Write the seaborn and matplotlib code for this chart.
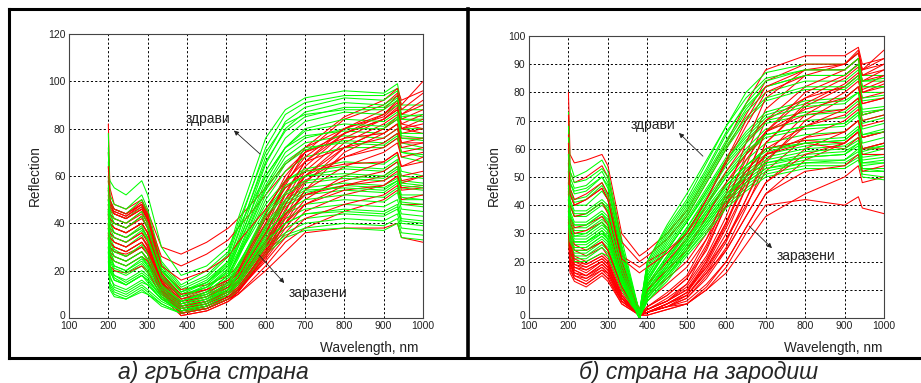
import pandas as pd
import matplotlib
matplotlib.use("Agg")
import matplotlib.pyplot as plt
import matplotlib.transforms as mtransforms
from matplotlib.lines import Line2D
import seaborn as sns

# knot wavelengths (nm) for the two panels
wl_a = [200, 204, 215, 245, 285, 300, 335, 385, 450, 505, 530, 600, 650, 700, 800, 900, 935, 945, 1000]
wl_b = [200, 204, 215, 245, 285, 300, 335, 380, 400, 450, 500, 550, 600, 650, 700, 800, 900, 935, 945, 1000]

# а) гръбна страна - healthy (green) spectra
healthy_a = [
    [78, 52, 48, 46, 52, 46, 24, 14, 20, 28, 42, 76, 88, 93, 96, 95, 99, 90, 90],
    [72, 48, 44, 42, 47, 42, 22, 12, 17, 26, 38, 72, 86, 91, 94, 94, 97, 88, 88],
    [66, 44, 40, 38, 43, 38, 20, 11, 16, 24, 35, 68, 83, 89, 93, 92, 96, 86, 85],
    [60, 40, 36, 34, 39, 34, 18, 10, 15, 23, 33, 65, 80, 87, 91, 90, 94, 84, 84],
    [55, 36, 32, 30, 35, 30, 16, 9, 14, 22, 31, 62, 76, 83, 87, 86, 90, 80, 80],
    [62, 58, 55, 52, 58, 52, 30, 18, 22, 30, 38, 60, 72, 77, 79, 78, 82, 74, 72],
    [50, 34, 30, 28, 32, 28, 15, 8, 12, 20, 28, 55, 68, 74, 77, 76, 80, 72, 71],
    [45, 30, 26, 24, 28, 24, 13, 7, 11, 18, 26, 52, 65, 71, 75, 74, 78, 70, 68],
    [40, 27, 22, 20, 25, 22, 12, 6, 10, 17, 25, 50, 62, 68, 72, 72, 76, 68, 66],
    [58, 42, 38, 36, 40, 36, 19, 10, 13, 19, 26, 46, 58, 63, 66, 65, 69, 62, 60],
    [48, 28, 24, 22, 26, 22, 12, 6, 9, 15, 22, 44, 55, 60, 63, 62, 66, 58, 57],
    [52, 33, 29, 26, 30, 27, 14, 7, 10, 16, 23, 42, 52, 57, 59, 58, 61, 55, 54],
    [44, 24, 20, 18, 22, 19, 10, 5, 8, 14, 20, 40, 50, 55, 57, 56, 59, 52, 52],
    [40, 22, 18, 15, 19, 17, 9, 4, 7, 13, 19, 38, 48, 53, 56, 55, 58, 50, 50],
    [36, 20, 16, 14, 18, 15, 8, 4, 6, 12, 18, 37, 47, 52, 54, 53, 57, 49, 48],
    [46, 26, 22, 20, 24, 21, 11, 5, 8, 13, 18, 36, 44, 48, 50, 49, 53, 46, 45],
    [34, 18, 13, 11, 15, 14, 8, 3, 6, 11, 16, 34, 42, 46, 48, 47, 50, 44, 43],
    [38, 21, 17, 14, 18, 16, 9, 4, 7, 12, 17, 33, 40, 44, 46, 45, 48, 42, 41],
    [30, 15, 12, 10, 14, 12, 7, 3, 5, 10, 15, 31, 38, 42, 44, 43, 46, 40, 39],
    [28, 14, 11, 9, 13, 11, 6, 2, 5, 10, 14, 30, 36, 40, 42, 41, 44, 38, 37],
    [26, 13, 10, 8, 12, 10, 6, 2, 4, 9, 13, 28, 35, 38, 40, 39, 42, 36, 35],
    [24, 12, 9, 8, 11, 10, 5, 2, 4, 8, 12, 27, 34, 37, 38, 37, 40, 34, 33],
    [64, 46, 42, 40, 45, 40, 21, 11, 15, 22, 32, 60, 72, 80, 84, 83, 87, 78, 78],
    [54, 38, 34, 32, 37, 33, 17, 9, 13, 21, 30, 56, 70, 76, 80, 80, 84, 76, 75],
    [70, 50, 46, 44, 50, 44, 23, 13, 18, 27, 40, 70, 82, 86, 88, 88, 92, 84, 83],
    [42, 30, 26, 24, 28, 25, 13, 7, 11, 18, 27, 48, 58, 62, 64, 63, 67, 60, 59],
    [50, 40, 36, 34, 38, 34, 18, 9, 13, 20, 30, 58, 72, 79, 82, 81, 85, 77, 76],
    [46, 32, 28, 26, 31, 27, 14, 7, 11, 18, 27, 54, 66, 72, 74, 73, 77, 70, 69],
    [38, 28, 24, 22, 26, 23, 12, 6, 9, 15, 22, 45, 56, 60, 61, 60, 64, 57, 56],
    [34, 25, 21, 19, 23, 20, 11, 5, 8, 14, 21, 43, 53, 58, 60, 59, 63, 56, 55],
    [32, 22, 18, 16, 20, 18, 10, 4, 7, 12, 18, 39, 49, 54, 55, 54, 58, 51, 50],
    [30, 20, 16, 14, 18, 16, 9, 3, 6, 11, 16, 35, 45, 50, 52, 51, 55, 48, 47],
    [56, 44, 40, 38, 43, 38, 20, 11, 15, 24, 36, 66, 79, 85, 89, 89, 93, 85, 86],
    [28, 17, 14, 12, 16, 14, 8, 3, 5, 10, 15, 32, 40, 44, 45, 44, 47, 41, 40],
]

# а) гръбна страна - infected (red) spectra
infected_a = [
    [82, 55, 48, 46, 50, 45, 30, 27, 32, 38, 42, 55, 65, 72, 80, 85, 90, 82, 80],
    [70, 50, 44, 42, 46, 42, 26, 22, 27, 33, 38, 52, 62, 70, 78, 84, 88, 80, 78],
    [60, 48, 46, 44, 48, 43, 20, 12, 14, 18, 22, 40, 58, 72, 85, 92, 97, 92, 96],
    [55, 45, 44, 42, 46, 41, 18, 8, 10, 14, 18, 38, 56, 70, 84, 90, 95, 90, 100],
    [50, 44, 42, 40, 44, 40, 17, 6, 8, 12, 16, 35, 52, 66, 80, 88, 94, 88, 95],
    [48, 42, 40, 38, 42, 38, 16, 5, 7, 11, 15, 33, 50, 64, 78, 86, 92, 86, 92],
    [45, 40, 38, 36, 40, 36, 15, 4, 6, 10, 14, 31, 48, 62, 76, 84, 89, 84, 88],
    [42, 38, 36, 34, 38, 34, 14, 3, 5, 9, 13, 29, 45, 60, 74, 82, 86, 80, 84],
    [40, 36, 34, 32, 36, 32, 13, 2, 4, 8, 12, 28, 43, 57, 72, 80, 84, 78, 80],
    [38, 34, 32, 30, 34, 30, 12, 1, 3, 7, 11, 26, 40, 54, 70, 78, 82, 76, 76],
    [46, 44, 42, 40, 45, 40, 15, 6, 9, 14, 18, 36, 50, 60, 68, 72, 76, 70, 72],
    [44, 36, 34, 32, 36, 33, 14, 4, 7, 12, 16, 32, 44, 52, 58, 62, 66, 60, 62],
    [36, 30, 28, 27, 30, 27, 11, 2, 4, 8, 11, 25, 36, 45, 52, 56, 60, 54, 55],
    [34, 22, 20, 19, 22, 20, 9, 1, 3, 7, 10, 22, 32, 38, 45, 50, 54, 48, 48],
    [30, 32, 30, 28, 32, 29, 12, 3, 4, 8, 10, 20, 28, 36, 38, 38, 40, 34, 32],
    [52, 46, 45, 43, 47, 42, 18, 10, 12, 16, 20, 42, 55, 62, 65, 66, 70, 64, 66],
    [40, 26, 24, 22, 26, 24, 10, 3, 5, 9, 12, 28, 40, 48, 54, 56, 60, 55, 56],
    [48, 40, 38, 36, 40, 36, 15, 5, 7, 11, 14, 30, 46, 58, 68, 74, 78, 72, 74],
    [58, 48, 46, 44, 49, 44, 19, 9, 12, 16, 20, 44, 60, 70, 76, 78, 82, 74, 76],
    [35, 28, 26, 24, 28, 25, 11, 2, 4, 8, 11, 30, 44, 52, 56, 58, 62, 57, 60],
    [50, 46, 44, 42, 46, 42, 17, 7, 9, 13, 17, 36, 53, 66, 78, 84, 88, 82, 86],
    [46, 42, 40, 38, 43, 38, 16, 5, 7, 11, 15, 32, 48, 60, 72, 80, 85, 80, 82],
    [42, 40, 38, 36, 40, 36, 15, 4, 6, 10, 13, 28, 42, 54, 64, 70, 74, 68, 70],
    [38, 34, 32, 30, 34, 31, 13, 3, 5, 9, 12, 26, 38, 48, 56, 60, 64, 58, 60],
    [44, 30, 28, 26, 30, 27, 12, 3, 5, 9, 12, 24, 34, 42, 48, 52, 56, 50, 52],
    [54, 47, 45, 43, 48, 43, 18, 8, 11, 15, 19, 40, 57, 68, 80, 86, 91, 86, 90],
    [36, 32, 30, 28, 32, 28, 12, 2, 4, 8, 11, 27, 40, 50, 60, 66, 70, 64, 68],
    [64, 50, 46, 44, 48, 44, 22, 16, 20, 26, 32, 46, 58, 66, 72, 76, 80, 74, 74],
]

# б) страна на зародиш - healthy (green) spectra
healthy_b = [
    [73, 55, 50, 52, 56, 52, 28, 2, 20, 32, 42, 55, 68, 80, 87, 90, 90, 94, 86, 86],
    [68, 50, 46, 47, 52, 48, 25, 2, 18, 30, 40, 52, 65, 76, 84, 88, 88, 92, 84, 84],
    [62, 46, 42, 43, 48, 44, 23, 1, 16, 28, 38, 50, 62, 73, 80, 84, 84, 88, 80, 80],
    [58, 44, 40, 40, 45, 42, 21, 1, 15, 26, 36, 48, 60, 70, 77, 81, 81, 85, 77, 78],
    [55, 42, 38, 38, 42, 40, 20, 1, 14, 25, 35, 46, 57, 66, 73, 77, 78, 82, 74, 75],
    [52, 40, 36, 36, 40, 38, 19, 1, 13, 24, 34, 44, 55, 63, 70, 73, 74, 78, 70, 72],
    [50, 38, 34, 34, 38, 36, 18, 1, 12, 22, 32, 42, 52, 60, 67, 70, 71, 75, 67, 69],
    [48, 36, 32, 32, 36, 34, 17, 0, 11, 21, 31, 40, 50, 58, 64, 67, 68, 72, 64, 66],
    [46, 35, 31, 31, 35, 33, 16, 0, 10, 20, 30, 39, 48, 56, 62, 65, 66, 70, 62, 64],
    [44, 34, 30, 30, 34, 32, 16, 0, 10, 19, 29, 38, 47, 54, 60, 63, 64, 68, 60, 62],
    [42, 32, 28, 28, 32, 30, 15, 0, 9, 18, 28, 37, 46, 53, 58, 61, 62, 66, 58, 60],
    [40, 30, 27, 27, 31, 29, 14, 0, 9, 18, 27, 36, 45, 52, 57, 60, 61, 64, 57, 58],
    [38, 29, 26, 26, 30, 28, 14, 0, 8, 17, 26, 35, 44, 50, 55, 58, 59, 62, 55, 56],
    [36, 28, 25, 25, 29, 27, 13, 0, 8, 16, 25, 34, 43, 49, 54, 57, 58, 61, 54, 55],
    [34, 26, 23, 23, 27, 25, 12, 0, 7, 15, 24, 33, 42, 48, 53, 56, 56, 60, 53, 53],
    [32, 25, 22, 22, 26, 24, 12, 0, 7, 15, 23, 32, 41, 47, 52, 55, 55, 58, 52, 52],
    [30, 24, 21, 21, 25, 23, 11, 0, 6, 14, 23, 31, 40, 46, 51, 54, 54, 57, 51, 50],
    [56, 48, 45, 46, 50, 47, 24, 2, 19, 31, 41, 53, 66, 75, 82, 86, 86, 90, 82, 82],
    [45, 40, 36, 37, 41, 38, 19, 1, 14, 24, 34, 45, 56, 65, 72, 76, 77, 80, 73, 74],
    [40, 33, 29, 30, 34, 31, 15, 0, 11, 21, 30, 40, 50, 58, 65, 68, 69, 73, 65, 66],
    [35, 30, 27, 27, 30, 28, 14, 0, 9, 18, 27, 37, 47, 54, 60, 62, 63, 67, 60, 61],
    [28, 22, 20, 20, 23, 22, 10, 0, 6, 13, 22, 30, 39, 45, 50, 53, 53, 56, 50, 49],
    [42, 36, 33, 33, 37, 34, 17, 1, 12, 22, 32, 43, 54, 62, 69, 72, 73, 77, 69, 71],
    [60, 45, 41, 42, 47, 43, 22, 1, 15, 27, 37, 49, 61, 71, 78, 82, 82, 86, 78, 79],
    [64, 48, 44, 45, 50, 46, 24, 2, 17, 29, 39, 51, 63, 74, 82, 86, 86, 90, 82, 82],
    [54, 41, 37, 37, 41, 39, 19, 1, 13, 24, 34, 45, 56, 64, 71, 75, 76, 80, 72, 74],
    [47, 37, 33, 33, 37, 35, 17, 0, 11, 21, 31, 41, 51, 59, 65, 68, 69, 73, 65, 67],
    [43, 33, 29, 29, 33, 31, 15, 0, 9, 19, 28, 38, 47, 54, 59, 62, 63, 67, 59, 61],
    [39, 30, 27, 27, 31, 28, 14, 0, 8, 17, 26, 35, 44, 51, 56, 59, 60, 63, 56, 57],
    [37, 28, 25, 25, 29, 27, 13, 0, 8, 16, 25, 34, 43, 50, 55, 57, 58, 62, 55, 55],
    [58, 52, 48, 49, 53, 50, 26, 2, 20, 33, 44, 56, 68, 78, 85, 88, 88, 92, 84, 85],
    [33, 27, 24, 24, 28, 26, 12, 0, 7, 15, 24, 33, 42, 48, 53, 55, 56, 59, 53, 52],
]

# б) страна на зародиш - infected (red) spectra
infected_b = [
    [80, 58, 55, 56, 58, 54, 30, 22, 24, 30, 38, 50, 62, 76, 88, 93, 93, 96, 90, 92],
    [72, 52, 48, 50, 54, 50, 27, 20, 22, 28, 36, 48, 60, 72, 84, 90, 90, 94, 88, 90],
    [60, 30, 24, 22, 25, 22, 10, 1, 4, 8, 14, 24, 40, 58, 74, 86, 90, 95, 88, 95],
    [55, 28, 22, 20, 23, 21, 9, 1, 3, 7, 12, 22, 36, 54, 70, 82, 88, 92, 86, 90],
    [50, 26, 20, 18, 21, 19, 8, 1, 3, 6, 10, 20, 33, 50, 66, 78, 85, 89, 82, 86],
    [48, 24, 18, 17, 20, 18, 7, 1, 2, 5, 9, 18, 30, 46, 62, 75, 82, 86, 80, 83],
    [45, 22, 17, 15, 19, 17, 7, 1, 2, 5, 8, 16, 27, 42, 58, 72, 80, 84, 78, 80],
    [42, 20, 16, 14, 18, 16, 6, 1, 2, 4, 7, 15, 25, 39, 55, 70, 78, 82, 76, 78],
    [40, 24, 19, 18, 21, 19, 8, 1, 3, 6, 10, 18, 28, 40, 52, 64, 70, 74, 68, 70],
    [38, 22, 18, 16, 20, 18, 7, 1, 2, 5, 8, 16, 24, 36, 48, 60, 66, 70, 64, 66],
    [46, 36, 32, 33, 36, 33, 16, 2, 8, 14, 20, 30, 42, 52, 60, 68, 72, 76, 70, 72],
    [35, 20, 15, 14, 17, 16, 6, 1, 2, 4, 6, 12, 20, 32, 44, 56, 62, 66, 60, 62],
    [33, 18, 14, 12, 16, 14, 6, 1, 2, 4, 5, 10, 16, 26, 36, 44, 50, 54, 48, 50],
    [30, 16, 13, 11, 15, 13, 5, 1, 1, 3, 5, 10, 18, 30, 40, 42, 40, 43, 39, 37],
    [52, 44, 40, 42, 46, 42, 20, 3, 12, 20, 28, 40, 52, 62, 70, 78, 82, 86, 80, 82],
    [44, 34, 30, 31, 34, 31, 14, 2, 6, 12, 18, 28, 40, 50, 58, 64, 66, 70, 64, 66],
    [38, 20, 16, 15, 18, 16, 7, 1, 2, 5, 9, 20, 34, 48, 58, 62, 60, 64, 58, 58],
    [36, 28, 24, 24, 27, 24, 11, 1, 4, 8, 14, 26, 42, 56, 66, 72, 74, 78, 72, 74],
    [65, 46, 42, 44, 48, 44, 22, 18, 20, 24, 30, 42, 55, 68, 80, 86, 86, 90, 84, 86],
    [42, 26, 20, 19, 22, 20, 8, 1, 3, 6, 12, 25, 40, 52, 60, 63, 62, 66, 60, 60],
    [58, 32, 26, 24, 27, 24, 11, 1, 4, 9, 15, 28, 44, 62, 78, 88, 90, 94, 88, 92],
    [52, 27, 21, 19, 22, 20, 8, 1, 3, 6, 11, 21, 34, 50, 66, 80, 86, 90, 84, 88],
    [47, 24, 19, 17, 20, 18, 7, 1, 2, 5, 9, 19, 32, 46, 62, 76, 83, 87, 81, 84],
    [40, 21, 17, 15, 19, 17, 7, 1, 2, 4, 8, 17, 28, 42, 56, 68, 74, 78, 72, 74],
    [50, 40, 36, 37, 41, 37, 18, 2, 10, 17, 24, 36, 48, 58, 66, 74, 78, 82, 76, 78],
    [36, 19, 15, 13, 17, 15, 6, 1, 2, 4, 7, 14, 24, 36, 48, 58, 62, 66, 60, 62],
    [34, 17, 14, 12, 16, 14, 5, 1, 1, 3, 5, 11, 20, 32, 44, 52, 54, 58, 52, 54],
    [62, 44, 40, 42, 46, 42, 21, 16, 18, 23, 30, 42, 56, 70, 82, 88, 88, 92, 86, 88],
]

captions = ["а) гръбна страна", "б) страна на зародиш"]
GREEN = "#00ff00"
RED = "#ff0000"


def long_frame(wl, healthy, infected):
    rows = []
    order = []
    colors = {}
    n = max(len(healthy), len(infected))
    # interleave red and green so neither colour sits fully on top
    for i in range(n):
        for tag, group, col in (("r", infected, RED), ("g", healthy, GREEN)):
            if i < len(group):
                name = f"{tag}{i}"
                order.append(name)
                colors[name] = col
                for w, v in zip(wl, group[i]):
                    rows.append({"wl": w, "refl": v, "curve": name})
    return pd.DataFrame(rows), order, colors


sns.set_style("white")
plt.rcParams["font.family"] = ["Liberation Sans", "DejaVu Sans"]

fig = plt.figure(figsize=(9.21, 3.83), dpi=100)
ax_a = fig.add_axes([69 / 921, 1 - 318 / 383, 354 / 921, 284 / 383])
ax_b = fig.add_axes([529 / 921, 1 - 318 / 383, 355 / 921, 282 / 383])

panels = [
    (ax_a, wl_a, healthy_a, infected_a, 120, 20),
    (ax_b, wl_b, healthy_b, infected_b, 100, 10),
]
for ax, wl, hl, inf, ymax, ystep in panels:
    df, order, colors = long_frame(wl, hl, inf)
    sns.lineplot(data=df, x="wl", y="refl", hue="curve", hue_order=order,
                 palette=colors, estimator=None, sort=False, legend=False,
                 linewidth=0.75, ax=ax)
    ax.set_xlim(100, 1000)
    ax.set_ylim(0, ymax)
    ax.set_xticks(range(100, 1001, 100))
    ax.set_yticks(range(0, ymax + 1, ystep))
    ax.tick_params(length=0, labelsize=7.5, pad=2.5, colors="#222222")
    ax.grid(True, color="black", linestyle=(0, (2.2, 2.2)), linewidth=0.7)
    for s in ax.spines.values():
        s.set_color("#444444")
        s.set_linewidth(0.8)
    ax.set_xlabel("")
    ax.set_ylabel("")
    # lift the "0" label a little, as in the original, so it clears the "100"
    zero = ax.get_yticklabels()[0]
    zero.set_transform(zero.get_transform() +
                       mtransforms.ScaledTranslation(0, 3 / 100, fig.dpi_scale_trans))

# annotations
ax_a.text(453, 84, "здрави", fontsize=10, ha="center", va="center", color="#222222")
ax_a.annotate("", xy=(514, 80), xytext=(591, 68.5),
              arrowprops=dict(arrowstyle="-|>", color="#222222", lw=0.6, mutation_scale=7))
ax_a.text(733, 10.6, "заразени", fontsize=10, ha="center", va="center", color="#222222")
ax_a.annotate("", xy=(652, 13.9), xytext=(578, 27.5),
              arrowprops=dict(arrowstyle="-|>", color="#222222", lw=0.6, mutation_scale=7))

ax_b.text(414, 68.4, "здрави", fontsize=10, ha="center", va="center", color="#222222")
ax_b.annotate("", xy=(475, 66.3), xytext=(546, 56.7),
              arrowprops=dict(arrowstyle="-|>", color="#222222", lw=0.6, mutation_scale=7))
ax_b.text(802, 22, "заразени", fontsize=10, ha="center", va="center", color="#222222")
ax_b.annotate("", xy=(721, 24.1), xytext=(653, 33.3),
              arrowprops=dict(arrowstyle="-|>", color="#222222", lw=0.6, mutation_scale=7))

# axis labels placed like the original figure
for xc in (35 / 921, 494 / 921):
    fig.text(xc, 1 - 176 / 383, "Reflection", rotation=90, fontsize=9.8,
             ha="center", va="center", color="#222222")
for xr in (418 / 921, 882 / 921):
    fig.text(xr, 1 - 348 / 383, "Wavelength, nm", fontsize=9.8,
             ha="right", va="center", color="#222222")

# captions
fig.text(213 / 921, 1 - 372 / 383, captions[0], fontsize=16.5, style="italic",
         ha="center", va="center")
fig.text(699 / 921, 1 - 372 / 383, captions[1], fontsize=16.5, style="italic",
         ha="center", va="center")

# black frames around the panels
top, bot = 1 - 8.5 / 383, 1 - 357.5 / 383
xl, xs = 8.5 / 921, 467.5 / 921
frame = [
    ([xl, 1.0], [top, top], 2.2),
    ([xl, 1.0], [bot, bot], 2.2),
    ([xl, xl], [bot, top], 2.2),
    ([xs, xs], [bot, top], 2.6),
]
for xs_, ys_, lw in frame:
    fig.add_artist(Line2D(xs_, ys_, color="black", linewidth=lw,
                          transform=fig.transFigure, solid_capstyle="projecting"))

fig.savefig("out.png", dpi=100)
